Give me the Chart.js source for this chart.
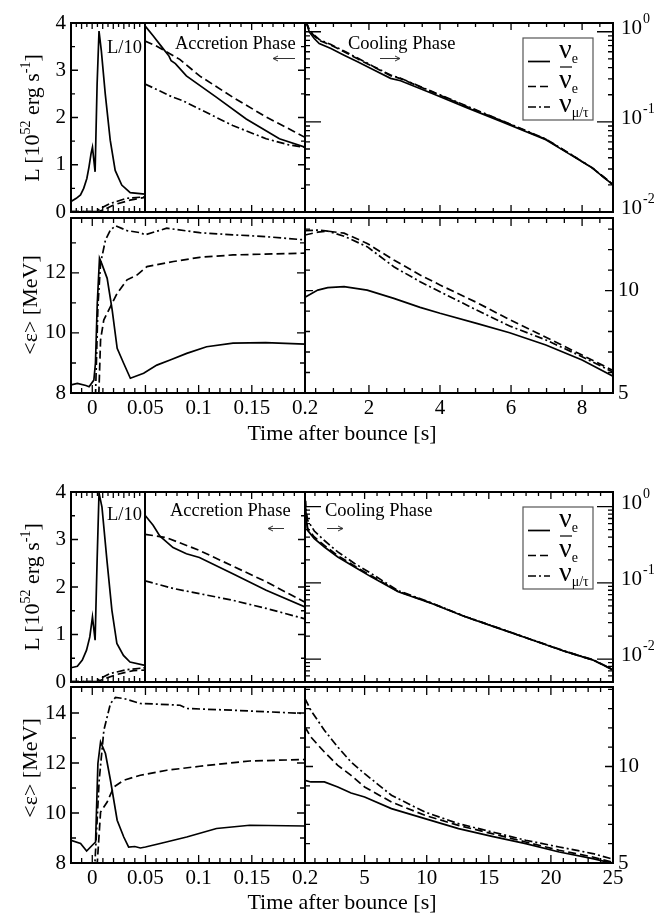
<!DOCTYPE html>
<html>
<head>
<meta charset="utf-8">
<title>Neutrino luminosities and mean energies</title>
<script src="https://cdn.jsdelivr.net/npm/chart.js@4.4.1/dist/chart.umd.min.js"></script>
<style>
  html, body { margin: 0; padding: 0; background: #fff; }
  #page { position: relative; width: 667px; height: 915px; overflow: hidden; background: #fff; }
  #page canvas, #page svg { position: absolute; left: 0; top: 0; }
  #overlay { pointer-events: none; }
</style>
</head>
<body>
<div id="page">
  <canvas id="upLumEarly" width="667" height="915"></canvas>
  <canvas id="upLumAcc" width="667" height="915"></canvas>
  <canvas id="upLumCool" width="667" height="915"></canvas>
  <canvas id="upEnAcc" width="667" height="915"></canvas>
  <canvas id="upEnCool" width="667" height="915"></canvas>
  <canvas id="loLumEarly" width="667" height="915"></canvas>
  <canvas id="loLumAcc" width="667" height="915"></canvas>
  <canvas id="loLumCool" width="667" height="915"></canvas>
  <canvas id="loEnAcc" width="667" height="915"></canvas>
  <canvas id="loEnCool" width="667" height="915"></canvas>

  <svg id="overlay" width="667" height="915" font-family="Liberation Serif, Times New Roman, serif" fill="#000">
    <!-- axis titles -->
    <text x="342" y="440" font-size="22" text-anchor="middle">Time after bounce [s]</text>
    <text x="342" y="909" font-size="22" text-anchor="middle">Time after bounce [s]</text>
    <text transform="translate(39,118) rotate(-90)" font-size="22" text-anchor="middle">L [10<tspan dy="-9" font-size="14">52</tspan><tspan dy="9"> erg s</tspan><tspan dy="-9" font-size="14">-1</tspan><tspan dy="9">]</tspan></text>
    <text transform="translate(39,587) rotate(-90)" font-size="22" text-anchor="middle">L [10<tspan dy="-9" font-size="14">52</tspan><tspan dy="9"> erg s</tspan><tspan dy="-9" font-size="14">-1</tspan><tspan dy="9">]</tspan></text>
    <text transform="translate(37,305) rotate(-90)" font-size="22" text-anchor="middle">&lt;ε&gt; [MeV]</text>
    <text transform="translate(37,768) rotate(-90)" font-size="22" text-anchor="middle">&lt;ε&gt; [MeV]</text>

    <!-- annotations, upper figure -->
    <text x="107" y="53" font-size="18.5">L/10</text>
    <text x="175" y="49" font-size="18.5">Accretion Phase</text>
    <g stroke="#333" stroke-width="1" fill="none">
      <path d="M295 58.5 H273 M273 58.5 l5 -2.5 M273 58.5 l5 2.5"/>
      <path d="M380 58.5 H400 M400 58.5 l-5 -2.5 M400 58.5 l-5 2.5"/>
    </g>
    <text x="348" y="49" font-size="18.5">Cooling Phase</text>

    <!-- annotations, lower figure -->
    <text x="107" y="520" font-size="18.5">L/10</text>
    <text x="170" y="516" font-size="18.5">Accretion Phase</text>
    <g stroke="#333" stroke-width="1" fill="none">
      <path d="M284 528.5 H268 M268 528.5 l5 -2.5 M268 528.5 l5 2.5"/>
      <path d="M327 528.5 H343 M343 528.5 l-5 -2.5 M343 528.5 l-5 2.5"/>
    </g>
    <text x="325" y="516" font-size="18.5">Cooling Phase</text>

    <!-- legends -->
    <g transform="translate(523,38)">
      <rect x="0" y="0" width="70" height="82" fill="#fff" stroke="#555" stroke-width="1.2"/>
      <line x1="5" y1="23.5" x2="27" y2="23.5" stroke="#000" stroke-width="1.7"/>
      <text x="36" y="20" font-size="28">ν<tspan font-size="14" dy="5">e</tspan></text>
      <line x1="5" y1="48.5" x2="27" y2="48.5" stroke="#000" stroke-width="1.7" stroke-dasharray="8 4"/>
      <line x1="37" y1="29" x2="49" y2="29" stroke="#000" stroke-width="1.2"/>
      <text x="36" y="50" font-size="28">ν<tspan font-size="14" dy="5">e</tspan></text>
      <line x1="5" y1="69" x2="27" y2="69" stroke="#000" stroke-width="1.7" stroke-dasharray="8 3 2 3"/>
      <text x="36" y="74" font-size="28">ν<tspan font-size="14" dy="5">μ/τ</tspan></text>
    </g>
    <g transform="translate(523,507)">
      <rect x="0" y="0" width="70" height="82" fill="#fff" stroke="#555" stroke-width="1.2"/>
      <line x1="5" y1="23.5" x2="27" y2="23.5" stroke="#000" stroke-width="1.7"/>
      <text x="36" y="20" font-size="28">ν<tspan font-size="14" dy="5">e</tspan></text>
      <line x1="5" y1="48.5" x2="27" y2="48.5" stroke="#000" stroke-width="1.7" stroke-dasharray="8 4"/>
      <line x1="37" y1="29" x2="49" y2="29" stroke="#000" stroke-width="1.2"/>
      <text x="36" y="50" font-size="28">ν<tspan font-size="14" dy="5">e</tspan></text>
      <line x1="5" y1="69" x2="27" y2="69" stroke="#000" stroke-width="1.7" stroke-dasharray="8 3 2 3"/>
      <text x="36" y="74" font-size="28">ν<tspan font-size="14" dy="5">μ/τ</tspan></text>
    </g>
  </svg>
</div>

<script>
// ---------- tick labels ----------
var lumTicks = [0, 1, 2, 3, 4];
var accTimeTicks = [0, 0.05, 0.1, 0.15, 0.2];
var upCoolTimeTicks = [2, 4, 6, 8];
var loCoolTimeTicks = [5, 10, 15, 20, 25];
var upEnAccTicks = [8, 10, 12];
var loEnAccTicks = [8, 10, 12, 14];
var enCoolTicks = [5, 10];
var lumLogExps = [0, -1, -2];

// ---------- upper figure ----------
// luminosity around bounce, plotted as L/10
var upBounceT_e = [-0.02, -0.015, -0.011, -0.008, -0.005, -0.003, -0.001, 0.0003, 0.0028, 0.0047, 0.0065, 0.0087, 0.0124, 0.0171, 0.0218, 0.028, 0.036, 0.05];
var upBounceL_e = [0.22, 0.29, 0.36, 0.50, 0.71, 0.95, 1.24, 1.37, 0.85, 2.71, 3.83, 3.41, 2.50, 1.52, 0.88, 0.57, 0.41, 0.38];
var upBounceT_ae = [-0.02, 0.006, 0.012, 0.0203, 0.0358, 0.05];
var upBounceL_ae = [0.01, 0.01, 0.06, 0.15, 0.25, 0.31];
var upBounceT_x = [-0.02, 0.003, 0.010, 0.017, 0.0326, 0.05];
var upBounceL_x = [0.01, 0.01, 0.10, 0.18, 0.29, 0.32];

// luminosity, accretion phase
var upAccT_e = [0.05, 0.0576, 0.0655, 0.0725, 0.0745, 0.0785, 0.0888, 0.1168, 0.1449, 0.176, 0.2];
var upAccL_e = [3.94, 3.73, 3.50, 3.30, 3.20, 3.14, 2.88, 2.43, 1.97, 1.55, 1.37];
var upAccT_ae = [0.05, 0.06, 0.0826, 0.1012, 0.1323, 0.1636, 0.19, 0.2];
var upAccL_ae = [3.62, 3.52, 3.23, 2.88, 2.43, 2.01, 1.70, 1.58];
var upAccT_x = [0.05, 0.065, 0.072, 0.0763, 0.085, 0.101, 0.1323, 0.1636, 0.185, 0.2];
var upAccL_x = [2.71, 2.55, 2.47, 2.43, 2.36, 2.18, 1.83, 1.55, 1.42, 1.37];

// luminosity, cooling phase (log axis)
var upCoolLT = [0.2, 0.25, 0.32, 0.46, 0.60, 0.93, 1.30, 1.68, 2.14, 2.61, 2.89, 3.8, 4.75, 5.7, 6.98, 7.6, 8.28, 8.87];
var upCoolL_e = [1.25, 1.23, 0.995, 0.84, 0.74, 0.652, 0.55, 0.464, 0.376, 0.304, 0.286, 0.205, 0.144, 0.102, 0.0634, 0.045, 0.0309, 0.0200];
var upCoolL_ae = [1.25, 1.22, 1.03, 0.90, 0.80, 0.71, 0.60, 0.50, 0.405, 0.325, 0.302, 0.213, 0.148, 0.104, 0.0640, 0.0455, 0.0310, 0.0201];
var upCoolL_x = [1.25, 1.24, 1.06, 0.92, 0.82, 0.72, 0.61, 0.51, 0.41, 0.33, 0.305, 0.215, 0.150, 0.105, 0.0645, 0.0457, 0.0311, 0.0202];

// mean energy, bounce + accretion
var upEnAccT_e = [-0.02, -0.014, -0.006, -0.003, 0.0015, 0.003, 0.0047, 0.0068, 0.009, 0.014, 0.0187, 0.0234, 0.0295, 0.0358, 0.0483, 0.0607, 0.0732, 0.0888, 0.1075, 0.1323, 0.163, 0.2];
var upEnAccE_e = [8.27, 8.32, 8.25, 8.21, 8.43, 9.0, 10.99, 12.49, 12.3, 11.82, 10.77, 9.49, 8.99, 8.49, 8.66, 8.93, 9.1, 9.32, 9.54, 9.66, 9.68, 9.63];
var upEnAccT_ae = [-0.02, 0.004, 0.0062, 0.0078, 0.0108, 0.0171, 0.0234, 0.0327, 0.042, 0.0514, 0.0763, 0.101, 0.1323, 0.2];
var upEnAccE_ae = [6.0, 6.0, 8.0, 9.77, 10.43, 10.88, 11.32, 11.77, 11.93, 12.21, 12.38, 12.52, 12.6, 12.66];
var upEnAccT_x = [-0.02, 0.0025, 0.0031, 0.0053, 0.0078, 0.0124, 0.0171, 0.0218, 0.0327, 0.0452, 0.0498, 0.07, 0.101, 0.1323, 0.163, 0.2];
var upEnAccE_x = [6.0, 6.0, 8.0, 10.88, 12.32, 13.1, 13.43, 13.57, 13.41, 13.34, 13.27, 13.49, 13.34, 13.27, 13.21, 13.1];

// mean energy, cooling
var upEnCoolT = [0.2, 0.56, 0.84, 1.30, 1.95, 2.70, 3.44, 4.0, 5.03, 5.96, 6.98, 8.0, 8.87];
var upEnCoolE_e = [9.67, 10.02, 10.14, 10.19, 10.02, 9.62, 9.18, 8.89, 8.4, 7.94, 7.34, 6.61, 5.82];
var upEnCoolE_ae = [12.71, 12.85, 12.90, 12.80, 12.3, 11.49, 10.76, 10.27, 9.42, 8.58, 7.72, 6.85, 6.1];
var upEnCoolE_x = [12.92, 12.95, 12.9, 12.65, 12.14, 11.16, 10.43, 9.94, 9.05, 8.27, 7.59, 6.77, 6.02];

// ---------- lower figure ----------
var loBounceT_e = [-0.02, -0.014, -0.0093, -0.0053, -0.0022, 0.0003, 0.0028, 0.0047, 0.0065, 0.0093, 0.014, 0.0187, 0.0234, 0.0296, 0.0358, 0.05];
var loBounceL_e = [0.30, 0.33, 0.46, 0.67, 0.95, 1.37, 0.88, 2.56, 3.98, 3.68, 2.56, 1.51, 0.81, 0.56, 0.42, 0.35];
var loBounceT_ae = [-0.02, 0.005, 0.012, 0.0234, 0.0389, 0.05];
var loBounceL_ae = [0.01, 0.01, 0.07, 0.16, 0.24, 0.25];
var loBounceT_x = [-0.02, 0.003, 0.010, 0.017, 0.033, 0.05];
var loBounceL_x = [0.01, 0.01, 0.10, 0.18, 0.26, 0.30];

var loAccT_e = [0.05, 0.0576, 0.064, 0.0763, 0.0888, 0.101, 0.1323, 0.1636, 0.2];
var loAccL_e = [3.51, 3.30, 3.07, 2.83, 2.70, 2.62, 2.28, 1.93, 1.58];
var loAccT_ae = [0.05, 0.0701, 0.101, 0.1323, 0.1636, 0.2];
var loAccL_ae = [3.11, 3.04, 2.77, 2.44, 2.11, 1.68];
var loAccT_x = [0.05, 0.0763, 0.101, 0.1323, 0.1636, 0.2];
var loAccL_x = [2.13, 1.97, 1.86, 1.72, 1.55, 1.33];

var loCoolLT = [0.2, 0.25, 0.41, 0.95, 1.76, 2.84, 4.19, 5.53, 7.7, 10.4, 13.1, 15.8, 18.5, 21.2, 23.4, 25.0];
var loCoolL_e = [1.2, 0.85, 0.49, 0.382, 0.296, 0.219, 0.162, 0.12, 0.0763, 0.0537, 0.0359, 0.0253, 0.0178, 0.0125, 0.0097, 0.0072];
var loCoolL_ae = [1.25, 0.9, 0.52, 0.40, 0.31, 0.228, 0.167, 0.124, 0.0775, 0.054, 0.036, 0.0254, 0.0178, 0.0125, 0.0097, 0.0072];
var loCoolL_x = [1.3, 1.0, 0.664, 0.48, 0.36, 0.255, 0.18, 0.133, 0.079, 0.0545, 0.0362, 0.0255, 0.0179, 0.0126, 0.0098, 0.0073];

var loEnAccT_e = [-0.02, -0.011, -0.0053, 0.0, 0.0031, 0.0053, 0.0078, 0.0124, 0.0171, 0.0234, 0.0296, 0.0342, 0.040, 0.0452, 0.05, 0.0638, 0.0888, 0.1168, 0.148, 0.2];
var loEnAccE_e = [8.91, 8.78, 8.48, 8.71, 8.84, 11.98, 12.84, 12.38, 11.31, 9.71, 9.04, 8.64, 8.66, 8.60, 8.64, 8.78, 9.04, 9.38, 9.51, 9.48];
var loEnAccT_ae = [-0.02, 0.004, 0.0047, 0.0078, 0.014, 0.0202, 0.0296, 0.0452, 0.0701, 0.101, 0.148, 0.2];
var loEnAccE_ae = [6.0, 6.0, 8.0, 10.04, 10.44, 11.04, 11.31, 11.51, 11.71, 11.87, 12.08, 12.14];
var loEnAccT_x = [-0.02, 0.002, 0.0025, 0.0065, 0.0109, 0.0171, 0.0218, 0.0296, 0.0452, 0.0638, 0.0826, 0.0888, 0.1323, 0.2];
var loEnAccE_x = [6.0, 6.0, 8.0, 11.31, 13.31, 14.38, 14.62, 14.58, 14.38, 14.35, 14.31, 14.18, 14.11, 13.98];

var loEnCoolT = [0.2, 0.67, 1.76, 2.84, 3.91, 5.0, 7.16, 9.86, 12.56, 15.26, 17.97, 20.67, 23.37, 25.0];
var loEnCoolE_e = [9.28, 9.2, 9.2, 8.94, 8.63, 8.42, 7.82, 7.30, 6.78, 6.38, 6.0, 5.57, 5.23, 4.98];
var loEnCoolE_ae = [12.05, 11.53, 10.75, 10.06, 9.54, 8.94, 8.16, 7.47, 6.95, 6.52, 6.09, 5.66, 5.31, 5.03];
var loEnCoolE_x = [13.52, 12.91, 11.88, 11.01, 10.23, 9.63, 8.51, 7.64, 7.04, 6.61, 6.18, 5.83, 5.49, 5.2];

// ---------- setup ----------
Chart.defaults.font.family = '"Liberation Serif", "Times New Roman", serif';
Chart.defaults.color = '#000';

var W = 667, H = 915;
var NUE = [], ANUE = [8, 4], NUX = [8, 3, 2, 3];
var YAXIS_W = 50, XAXIS_H = 30;

function pts(ts, vs) {
    return ts.map(function (t, i) { return { x: t, y: vs[i] }; });
}

function line(ts, vs, dash) {
    return {
        data: pts(ts, vs),
        showLine: true,
        borderDash: dash,
        borderColor: '#000',
        borderWidth: 1.7,
        pointRadius: 0,
        fill: false,
        tension: 0,
        clip: 0
    };
}

function steps(a, b, d) {
    var out = [];
    var n = Math.round((b - a) / d);
    for (var i = 0; i <= n; i++) out.push(+(a + i * d).toFixed(6));
    return out;
}

function logTicks(min, max) {
    var major = [], minor = [];
    for (var e = Math.floor(Math.log10(min)); e <= Math.ceil(Math.log10(max)); e++) {
        var b = Math.pow(10, e);
        major.push(b);
        for (var k = 2; k <= 9; k++) minor.push(k * b);
    }
    return { major: major, minor: minor };
}

// axis box keeps a real size when it carries labels (labels are clipped to it)
function axis(dir, pos, type, min, max, labels) {
    var size = labels ? (dir === 'x' ? XAXIS_H : YAXIS_W) : 0;
    return {
        type: type,
        position: pos,
        min: min,
        max: max,
        grid: { display: false, drawTicks: false },
        border: { display: false },
        afterFit: function (s) { if (dir === 'x') s.height = size; else s.width = size; },
        afterBuildTicks: function (s) {
            s.ticks = (labels || [min, max]).map(function (v) { return { value: v }; });
        },
        ticks: {
            display: !!labels,
            autoSkip: false,
            maxRotation: 0,
            minRotation: 0,
            padding: dir === 'x' ? 3 : 5,
            color: '#000',
            font: { size: 21 },
            callback: function (v) { return String(v); }
        },
        _size: size
    };
}

// box and inward tick marks on the chosen sides
function makeFrame(f) {
    return {
        id: 'frame',
        afterDraw: function (chart) {
            var ctx = chart.ctx, a = chart.chartArea;
            var xs = chart.scales.x, ys = chart.scales.y;
            var sides = f.sides;
            ctx.save();
            ctx.strokeStyle = '#000';
            ctx.lineWidth = 1.3;
            ctx.beginPath();
            [[f.xMajor, f.xLen[0]], [f.xMinor, f.xLen[1]]].forEach(function (g) {
                (g[0] || []).forEach(function (v) {
                    var px = xs.getPixelForValue(v);
                    if (px < a.left + 1.5 || px > a.right - 1.5) return;
                    if (sides.indexOf('b') >= 0) { ctx.moveTo(px, a.bottom); ctx.lineTo(px, a.bottom - g[1]); }
                    if (sides.indexOf('t') >= 0) { ctx.moveTo(px, a.top); ctx.lineTo(px, a.top + g[1]); }
                });
            });
            [[f.yMajor, f.yLen[0]], [f.yMinor, f.yLen[1]]].forEach(function (g) {
                (g[0] || []).forEach(function (v) {
                    var py = ys.getPixelForValue(v);
                    if (py < a.top + 1.5 || py > a.bottom - 1.5) return;
                    if (sides.indexOf('l') >= 0) { ctx.moveTo(a.left, py); ctx.lineTo(a.left + g[1], py); }
                    if (sides.indexOf('r') >= 0) { ctx.moveTo(a.right, py); ctx.lineTo(a.right - g[1], py); }
                });
            });
            ctx.stroke();
            ctx.lineWidth = 2;
            ctx.strokeRect(a.left, a.top, a.right - a.left, a.bottom - a.top);
            ctx.restore();
        }
    };
}

// "10" with superscript exponent on the right of a log axis
function makeLogLabels(exps) {
    return {
        id: 'logLabels',
        afterDraw: function (chart) {
            var ctx = chart.ctx, a = chart.chartArea, ys = chart.scales.y;
            ctx.save();
            ctx.fillStyle = '#000';
            ctx.textAlign = 'left';
            ctx.textBaseline = 'alphabetic';
            exps.forEach(function (e) {
                var py = ys.getPixelForValue(Math.pow(10, e));
                var x = a.right + 8;
                ctx.font = '21px "Liberation Serif"';
                ctx.fillText('10', x, py + 2);
                var w = ctx.measureText('10').width;
                ctx.font = '14px "Liberation Serif"';
                ctx.fillText(String(e), x + w + 1, py - 9);
            });
            ctx.restore();
        }
    };
}

function panel(id, box, xAx, yAx, sets, frame, logExps) {
    var extra = [makeFrame(frame)];
    if (logExps) extra.push(makeLogLabels(logExps));
    var pad = { left: box[0], top: box[1], right: W - box[2], bottom: H - box[3] - xAx._size };
    if (yAx.position === 'left') pad.left -= yAx._size; else pad.right -= yAx._size;
    return new Chart(document.getElementById(id), {
        type: 'scatter',
        data: { datasets: sets },
        options: {
            responsive: false,
            animation: false,
            events: [],
            layout: { padding: pad },
            plugins: { legend: { display: false }, tooltip: { enabled: false } },
            scales: { x: xAx, y: yAx }
        },
        plugins: extra
    });
}

// tick mark sets
var earlyXMajor = steps(-0.02, 0.05, 0.01), earlyXMinor = steps(-0.015, 0.045, 0.01);
var accXMinor = steps(0.05, 0.2, 0.01), accXMajor = [0.1, 0.15];
var fullXMajor = [0, 0.05, 0.1, 0.15], fullXMinor = steps(-0.01, 0.19, 0.01);
var lumYMajor = [1, 2, 3], lumYMinor = steps(0.5, 3.5, 1);
var upCoolXMajor = [2, 4, 6, 8], upCoolXMinor = steps(0.5, 8.5, 0.5);
var loCoolXMajor = [5, 10, 15, 20], loCoolXMinor = steps(1, 24, 1);
var enCoolYMajor = [10], enCoolYMinor = steps(6, 14, 1);
var upLog = logTicks(0.01, 1.25), loLog = logTicks(0.005, 1.56);

// ---------- upper figure panels ----------
panel('upLumEarly', [71, 23, 145, 212],
    axis('x', 'bottom', 'linear', -0.02, 0.05, null),
    axis('y', 'left', 'linear', 0, 4, lumTicks),
    [line(upBounceT_e, upBounceL_e, NUE), line(upBounceT_ae, upBounceL_ae, ANUE), line(upBounceT_x, upBounceL_x, NUX)],
    { sides: 'ltb', xMajor: earlyXMajor, xMinor: earlyXMinor, yMajor: lumYMajor, yMinor: lumYMinor, xLen: [6, 4], yLen: [7, 4] });

panel('upLumAcc', [145, 23, 305, 212],
    axis('x', 'bottom', 'linear', 0.05, 0.2, null),
    axis('y', 'left', 'linear', 0, 4, null),
    [line(upAccT_e, upAccL_e, NUE), line(upAccT_ae, upAccL_ae, ANUE), line(upAccT_x, upAccL_x, NUX)],
    { sides: 'rtb', xMajor: accXMajor, xMinor: accXMinor, yMajor: lumYMajor, yMinor: lumYMinor, xLen: [7, 4], yLen: [7, 4] });

panel('upLumCool', [305, 23, 613, 212],
    axis('x', 'bottom', 'linear', 0.2, 8.87, null),
    axis('y', 'right', 'logarithmic', 0.01, 1.25, null),
    [line(upCoolLT, upCoolL_e, NUE), line(upCoolLT, upCoolL_ae, ANUE), line(upCoolLT, upCoolL_x, NUX)],
    { sides: 'lrtb', xMajor: upCoolXMajor, xMinor: upCoolXMinor, yMajor: upLog.major, yMinor: upLog.minor, xLen: [7, 4], yLen: [16, 5] },
    lumLogExps);

panel('upEnAcc', [71, 218, 305, 393],
    axis('x', 'bottom', 'linear', -0.02, 0.2, accTimeTicks),
    axis('y', 'left', 'linear', 8, 13.83, upEnAccTicks),
    [line(upEnAccT_e, upEnAccE_e, NUE), line(upEnAccT_ae, upEnAccE_ae, ANUE), line(upEnAccT_x, upEnAccE_x, NUX)],
    { sides: 'lrtb', xMajor: fullXMajor, xMinor: fullXMinor, yMajor: [10, 12], yMinor: [9, 11, 13], xLen: [8, 5], yLen: [8, 5] });

panel('upEnCool', [305, 218, 613, 393],
    axis('x', 'bottom', 'linear', 0.2, 8.87, upCoolTimeTicks),
    axis('y', 'right', 'linear', 5, 13.54, enCoolTicks),
    [line(upEnCoolT, upEnCoolE_e, NUE), line(upEnCoolT, upEnCoolE_ae, ANUE), line(upEnCoolT, upEnCoolE_x, NUX)],
    { sides: 'lrtb', xMajor: upCoolXMajor, xMinor: upCoolXMinor, yMajor: enCoolYMajor, yMinor: enCoolYMinor, xLen: [8, 5], yLen: [8, 5] });

// ---------- lower figure panels ----------
panel('loLumEarly', [71, 492, 145, 682],
    axis('x', 'bottom', 'linear', -0.02, 0.05, null),
    axis('y', 'left', 'linear', 0, 4, lumTicks),
    [line(loBounceT_e, loBounceL_e, NUE), line(loBounceT_ae, loBounceL_ae, ANUE), line(loBounceT_x, loBounceL_x, NUX)],
    { sides: 'ltb', xMajor: earlyXMajor, xMinor: earlyXMinor, yMajor: lumYMajor, yMinor: lumYMinor, xLen: [6, 4], yLen: [7, 4] });

panel('loLumAcc', [145, 492, 305, 682],
    axis('x', 'bottom', 'linear', 0.05, 0.2, null),
    axis('y', 'left', 'linear', 0, 4, null),
    [line(loAccT_e, loAccL_e, NUE), line(loAccT_ae, loAccL_ae, ANUE), line(loAccT_x, loAccL_x, NUX)],
    { sides: 'rtb', xMajor: accXMajor, xMinor: accXMinor, yMajor: lumYMajor, yMinor: lumYMinor, xLen: [7, 4], yLen: [7, 4] });

panel('loLumCool', [305, 492, 613, 682],
    axis('x', 'bottom', 'linear', 0.2, 25, null),
    axis('y', 'right', 'logarithmic', 0.005, 1.56, null),
    [line(loCoolLT, loCoolL_e, NUE), line(loCoolLT, loCoolL_ae, ANUE), line(loCoolLT, loCoolL_x, NUX)],
    { sides: 'lrtb', xMajor: loCoolXMajor, xMinor: loCoolXMinor, yMajor: loLog.major, yMinor: loLog.minor, xLen: [7, 4], yLen: [16, 5] },
    lumLogExps);

panel('loEnAcc', [71, 687, 305, 863],
    axis('x', 'bottom', 'linear', -0.02, 0.2, accTimeTicks),
    axis('y', 'left', 'linear', 8, 15.04, loEnAccTicks),
    [line(loEnAccT_e, loEnAccE_e, NUE), line(loEnAccT_ae, loEnAccE_ae, ANUE), line(loEnAccT_x, loEnAccE_x, NUX)],
    { sides: 'lrtb', xMajor: fullXMajor, xMinor: fullXMinor, yMajor: [10, 12, 14], yMinor: [9, 11, 13], xLen: [8, 5], yLen: [8, 5] });

panel('loEnCool', [305, 687, 613, 863],
    axis('x', 'bottom', 'linear', 0.2, 25, loCoolTimeTicks),
    axis('y', 'right', 'linear', 5, 14.12, enCoolTicks),
    [line(loEnCoolT, loEnCoolE_e, NUE), line(loEnCoolT, loEnCoolE_ae, ANUE), line(loEnCoolT, loEnCoolE_x, NUX)],
    { sides: 'lrtb', xMajor: loCoolXMajor, xMinor: loCoolXMinor, yMajor: enCoolYMajor, yMinor: enCoolYMinor, xLen: [8, 5], yLen: [8, 5] });
</script>
</body>
</html>
